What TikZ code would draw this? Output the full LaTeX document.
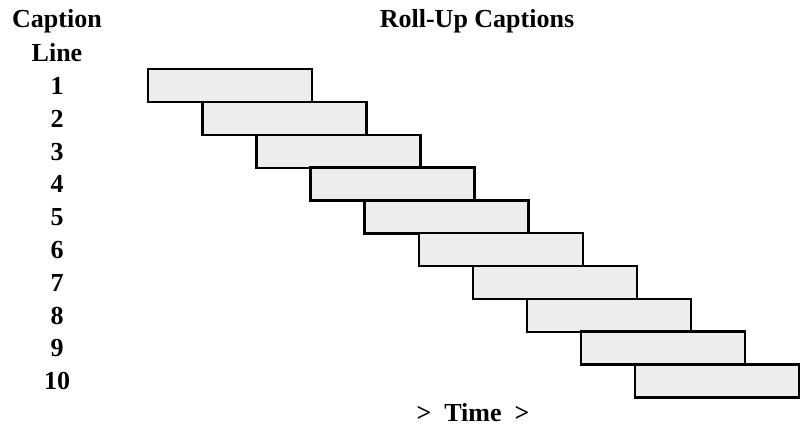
\documentclass[tikz,border=0pt]{standalone}
\usepackage{fontspec}
\setmainfont{Liberation Serif}
\begin{document}
\begin{tikzpicture}[x=1pt,y=-1pt,
  bar/.style={draw=black,line width=2.4pt,fill=black!7,minimum width=164pt,minimum height=33pt,inner sep=0pt,anchor=north west},
  lab/.style={font=\fontsize{26}{30}\selectfont\bfseries,inner sep=0pt}]
\useasboundingbox (0,0) rectangle (802,434);
\node[lab] (cap) at (57,21) {Caption};
\node[lab] (line) at (57,53) {Line};
\node[lab] (title) at (477,21) {Roll-Up Captions};
\foreach \i in {1,...,10}{
  \node[bar] (b\i) at ({147+54.1*(\i-1)},{68+32.8*(\i-1)}) {};
  \node[lab] (n\i) at (57,{86+32.8*(\i-1)}) {\i};
}
\node[lab] (time) at (473,413) {>\ \ Time\ \ >};
\end{tikzpicture}
\end{document}
